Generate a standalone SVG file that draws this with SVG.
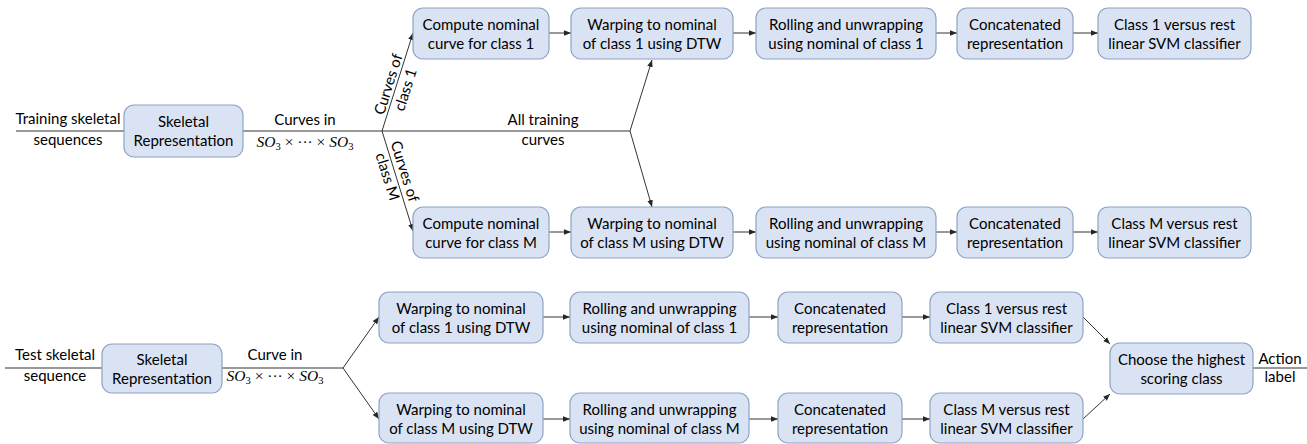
<svg xmlns="http://www.w3.org/2000/svg" width="1307" height="444" viewBox="0 0 1307 444">
<defs>
<marker id="ah" viewBox="0 0 10 10" refX="10" refY="5" markerWidth="7" markerHeight="7" markerUnits="userSpaceOnUse" orient="auto">
<path d="M0,1 L10,5 L0,9 Z" fill="#262626"/>
</marker>
<style>
.box{fill:#dae3f3;stroke:#8ea4c4;stroke-width:1.2}
.t{font-family:Lato,"Liberation Sans",sans-serif;font-size:15px;fill:#000;text-anchor:middle}
.ln{stroke:#333;stroke-width:1;fill:none}
.ar{stroke:#333;stroke-width:1;fill:none;marker-end:url(#ah)}
.m{font-family:"Liberation Serif",serif;font-size:15.5px;fill:#000}
.mi{font-style:italic}
</style>
</defs>
<rect width="1307" height="444" fill="#fff"/>
<g id="connectors">
<path class="ln" d="M16,131 H124"/>
<path class="ln" d="M243,131 H630"/>
<path class="ar" d="M382,131 L413,33"/>
<path class="ar" d="M382,131 L413,231"/>
<path class="ar" d="M630,131 L652,60"/>
<path class="ar" d="M630,131 L652,207"/>
<path class="ar" d="M549,33 H571"/>
<path class="ar" d="M733,33 H756"/>
<path class="ar" d="M936,33 H957"/>
<path class="ar" d="M1073,33 H1098"/>
<path class="ar" d="M549,232 H571"/>
<path class="ar" d="M733,232 H756"/>
<path class="ar" d="M936,232 H957"/>
<path class="ar" d="M1073,232 H1098"/>
<path class="ln" d="M5,368 H102"/>
<path class="ln" d="M222,368 H343"/>
<path class="ar" d="M343,368 L379,317"/>
<path class="ar" d="M343,368 L379,419"/>
<path class="ar" d="M543,317 H570"/>
<path class="ar" d="M749,317 H778"/>
<path class="ar" d="M902,317 H930"/>
<path class="ar" d="M543,419 H570"/>
<path class="ar" d="M749,419 H778"/>
<path class="ar" d="M902,419 H930"/>
<path class="ar" d="M1083,317 L1110,344"/>
<path class="ar" d="M1083,419 L1110,394"/>
<path class="ln" d="M1253,368 H1307"/>
</g>
<g id="labels">
<text class="t" x="68" y="124">Training skeletal</text>
<text class="t" x="68" y="145">sequences</text>
<text class="t" x="305" y="125">Curves in</text>
<text class="m" x="305" y="147" text-anchor="middle"><tspan class="mi">SO</tspan><tspan dy="3" font-size="10.5">3</tspan><tspan dy="-3">  × ··· ×  </tspan><tspan class="mi">SO</tspan><tspan dy="3" font-size="10.5">3</tspan></text>
<text class="t" x="543" y="125">All training</text>
<text class="t" x="543" y="145">curves</text>
<g transform="translate(397,87) rotate(-72.4)">
<text class="t" x="0" y="-4">Curves of</text>
<text class="t" x="0" y="14">class 1</text>
</g>
<g transform="translate(396,174) rotate(72.6)">
<text class="t" x="0" y="-4">Curves of</text>
<text class="t" x="0" y="14">class M</text>
</g>
<text class="t" x="55" y="360">Test skeletal</text>
<text class="t" x="55" y="381">sequence</text>
<text class="t" x="275" y="360">Curve in</text>
<text class="m" x="275" y="381" text-anchor="middle"><tspan class="mi">SO</tspan><tspan dy="3" font-size="10.5">3</tspan><tspan dy="-3"> × ··· ×  </tspan><tspan class="mi">SO</tspan><tspan dy="3" font-size="10.5">3</tspan></text>
<text class="t" x="1280" y="364">Action</text>
<text class="t" x="1280" y="382">label</text>
</g>
<g id="train-skel"><rect class="box" x="124" y="105" width="119" height="52" rx="10"/><text class="t" x="183.5" y="127">Skeletal</text><text class="t" x="183.5" y="146">Representation</text></g>
<g id="t1-nominal"><rect class="box" x="413" y="8" width="136" height="51" rx="10"/><text class="t" x="481" y="30">Compute nominal</text><text class="t" x="481" y="49">curve for class 1</text></g>
<g id="t1-warp"><rect class="box" x="571" y="8" width="162" height="51" rx="10"/><text class="t" x="652" y="30">Warping to nominal</text><text class="t" x="652" y="49">of class 1 using DTW</text></g>
<g id="t1-roll"><rect class="box" x="756" y="8" width="180" height="51" rx="10"/><text class="t" x="846" y="30">Rolling and unwrapping</text><text class="t" x="846" y="49">using nominal of class 1</text></g>
<g id="t1-concat"><rect class="box" x="957" y="8" width="116" height="51" rx="10"/><text class="t" x="1015" y="30">Concatenated</text><text class="t" x="1015" y="49">representation</text></g>
<g id="t1-svm"><rect class="box" x="1098" y="8" width="153" height="51" rx="10"/><text class="t" x="1174.5" y="30">Class 1 versus rest</text><text class="t" x="1174.5" y="49">linear SVM classifier</text></g>
<g id="tM-nominal"><rect class="box" x="413" y="207" width="136" height="51" rx="10"/><text class="t" x="481" y="229">Compute nominal</text><text class="t" x="481" y="248">curve for class M</text></g>
<g id="tM-warp"><rect class="box" x="571" y="207" width="162" height="51" rx="10"/><text class="t" x="652" y="229">Warping to nominal</text><text class="t" x="652" y="248">of class M using DTW</text></g>
<g id="tM-roll"><rect class="box" x="756" y="207" width="180" height="51" rx="10"/><text class="t" x="846" y="229">Rolling and unwrapping</text><text class="t" x="846" y="248">using nominal of class M</text></g>
<g id="tM-concat"><rect class="box" x="957" y="207" width="116" height="51" rx="10"/><text class="t" x="1015" y="229">Concatenated</text><text class="t" x="1015" y="248">representation</text></g>
<g id="tM-svm"><rect class="box" x="1098" y="207" width="153" height="51" rx="10"/><text class="t" x="1174.5" y="229">Class M versus rest</text><text class="t" x="1174.5" y="248">linear SVM classifier</text></g>
<g id="test-skel"><rect class="box" x="102" y="344" width="120" height="49" rx="10"/><text class="t" x="162" y="365">Skeletal</text><text class="t" x="162" y="384">Representation</text></g>
<g id="e1-warp"><rect class="box" x="379" y="292" width="164" height="51" rx="10"/><text class="t" x="461" y="314">Warping to nominal</text><text class="t" x="461" y="333">of class 1 using DTW</text></g>
<g id="e1-roll"><rect class="box" x="570" y="292" width="179" height="51" rx="10"/><text class="t" x="659.5" y="314">Rolling and unwrapping</text><text class="t" x="659.5" y="333">using nominal of class 1</text></g>
<g id="e1-concat"><rect class="box" x="778" y="292" width="124" height="51" rx="10"/><text class="t" x="840" y="314">Concatenated</text><text class="t" x="840" y="333">representation</text></g>
<g id="e1-svm"><rect class="box" x="930" y="292" width="153" height="51" rx="10"/><text class="t" x="1006.5" y="314">Class 1 versus rest</text><text class="t" x="1006.5" y="333">linear SVM classifier</text></g>
<g id="eM-warp"><rect class="box" x="379" y="393" width="164" height="50" rx="10"/><text class="t" x="461" y="415">Warping to nominal</text><text class="t" x="461" y="434">of class M using DTW</text></g>
<g id="eM-roll"><rect class="box" x="570" y="393" width="179" height="50" rx="10"/><text class="t" x="659.5" y="415">Rolling and unwrapping</text><text class="t" x="659.5" y="434">using nominal of class M</text></g>
<g id="eM-concat"><rect class="box" x="778" y="393" width="124" height="50" rx="10"/><text class="t" x="840" y="415">Concatenated</text><text class="t" x="840" y="434">representation</text></g>
<g id="eM-svm"><rect class="box" x="930" y="393" width="153" height="50" rx="10"/><text class="t" x="1006.5" y="415">Class M versus rest</text><text class="t" x="1006.5" y="434">linear SVM classifier</text></g>
<g id="choose"><rect class="box" x="1110" y="343" width="143" height="51" rx="10"/><text class="t" x="1181.5" y="365">Choose the highest</text><text class="t" x="1181.5" y="384">scoring class</text></g>
</svg>
